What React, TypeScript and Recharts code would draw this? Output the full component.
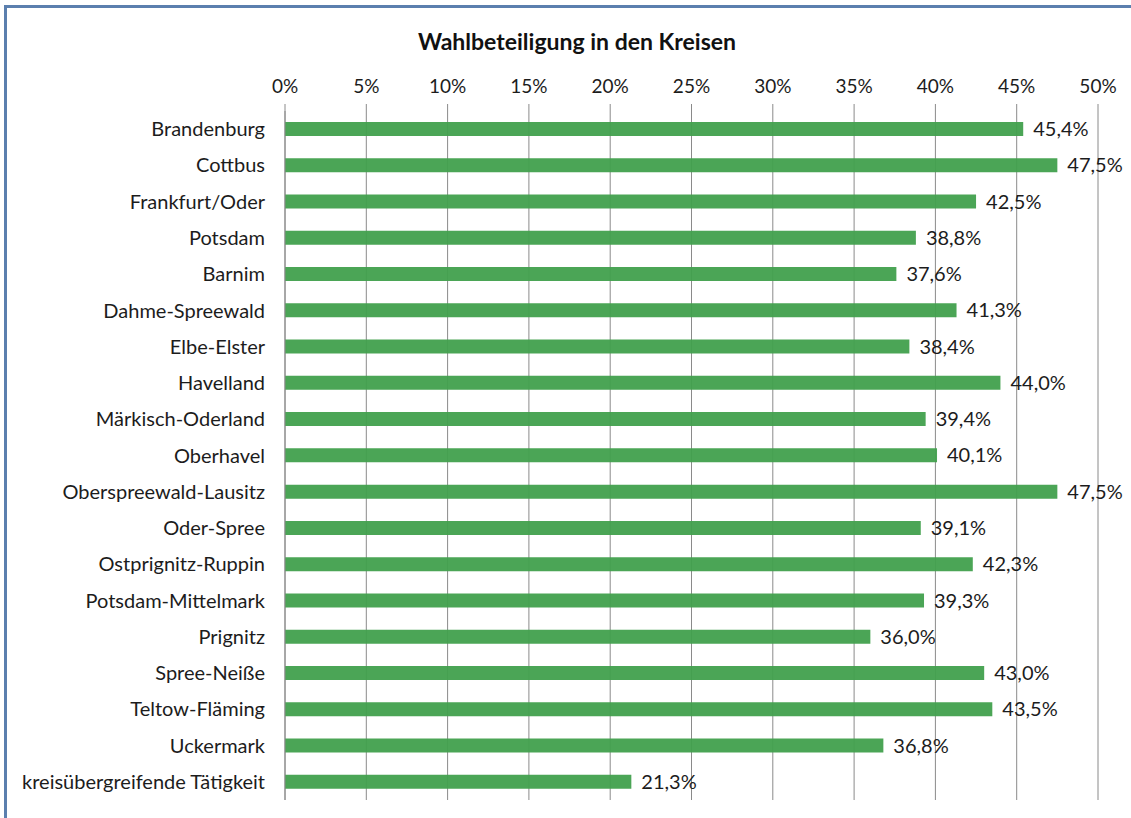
import React from "react";
import { BarChart, Bar, XAxis, YAxis, CartesianGrid, LabelList } from "recharts";

const categories = [
  "Brandenburg",
  "Cottbus",
  "Frankfurt/Oder",
  "Potsdam",
  "Barnim",
  "Dahme-Spreewald",
  "Elbe-Elster",
  "Havelland",
  "Märkisch-Oderland",
  "Oberhavel",
  "Oberspreewald-Lausitz",
  "Oder-Spree",
  "Ostprignitz-Ruppin",
  "Potsdam-Mittelmark",
  "Prignitz",
  "Spree-Neiße",
  "Teltow-Fläming",
  "Uckermark",
  "kreisübergreifende Tätigkeit",
];

const turnout = [45.4, 47.5, 42.5, 38.8, 37.6, 41.3, 38.4, 44.0, 39.4, 40.1, 47.5, 39.1, 42.3, 39.3, 36.0, 43.0, 43.5, 36.8, 21.3];

const xTicks = [0, 5, 10, 15, 20, 25, 30, 35, 40, 45, 50];

const data = categories.map((name, i) => ({ name, value: turnout[i] }));

const FONT = "Lato, 'Open Sans', sans-serif";

export default function App() {
  return (
    <div style={{ position: "absolute", left: 0, top: 0, width: 1131, height: 818, background: "#fff" }}>
      <div
        style={{
          position: "absolute",
          left: 4,
          top: 5,
          width: 1127,
          height: 813,
          boxSizing: "border-box",
          borderLeft: "3px solid #5b7fae",
          borderTop: "3px solid #5b7fae",
        }}
      />
      <div
        style={{
          position: "absolute",
          left: 0,
          top: 27,
          width: 1154,
          textAlign: "center",
          fontFamily: FONT,
          fontWeight: 700,
          fontSize: 23,
          color: "#111",
        }}
      >
        Wahlbeteiligung in den Kreisen
      </div>
      <div style={{ position: "absolute", left: 0, top: 0 }}>
        <BarChart
          width={1131}
          height={818}
          data={data}
          layout="vertical"
          margin={{ top: 20, right: 33, bottom: 18, left: 0 }}
          barCategoryGap={0}
        >
          <CartesianGrid horizontal={false} vertical={true} stroke="#8a8a8a" strokeWidth={1} />
          <XAxis
            type="number"
            orientation="top"
            domain={[0, 50]}
            ticks={xTicks}
            tickFormatter={(v: number) => `${v}%`}
            axisLine={false}
            tickLine={{ stroke: "#8a8a8a" }}
            tickSize={7}
            tickMargin={11}
            height={91}
            tick={{ fontFamily: FONT, fontSize: 19, fill: "#1c1c1c" }}
            interval={0}
          />
          <YAxis
            type="category"
            dataKey="name"
            width={285}
            axisLine={{ stroke: "#8a8a8a" }}
            tickLine={false}
            tickMargin={14}
            interval={0}
            tick={{ fontFamily: FONT, fontSize: 20, fill: "#1c1c1c" }}
          />
          <Bar dataKey="value" fill="#41a04d" fillOpacity={0.95} barSize={14} isAnimationActive={false}>
            <LabelList
              dataKey="value"
              position="right"
              offset={10}
              formatter={(v: number) => `${v.toFixed(1).replace(".", ",")}%`}
              style={{ fontFamily: FONT, fontSize: 20, fill: "#1c1c1c" }}
            />
          </Bar>
        </BarChart>
      </div>
    </div>
  );
}
